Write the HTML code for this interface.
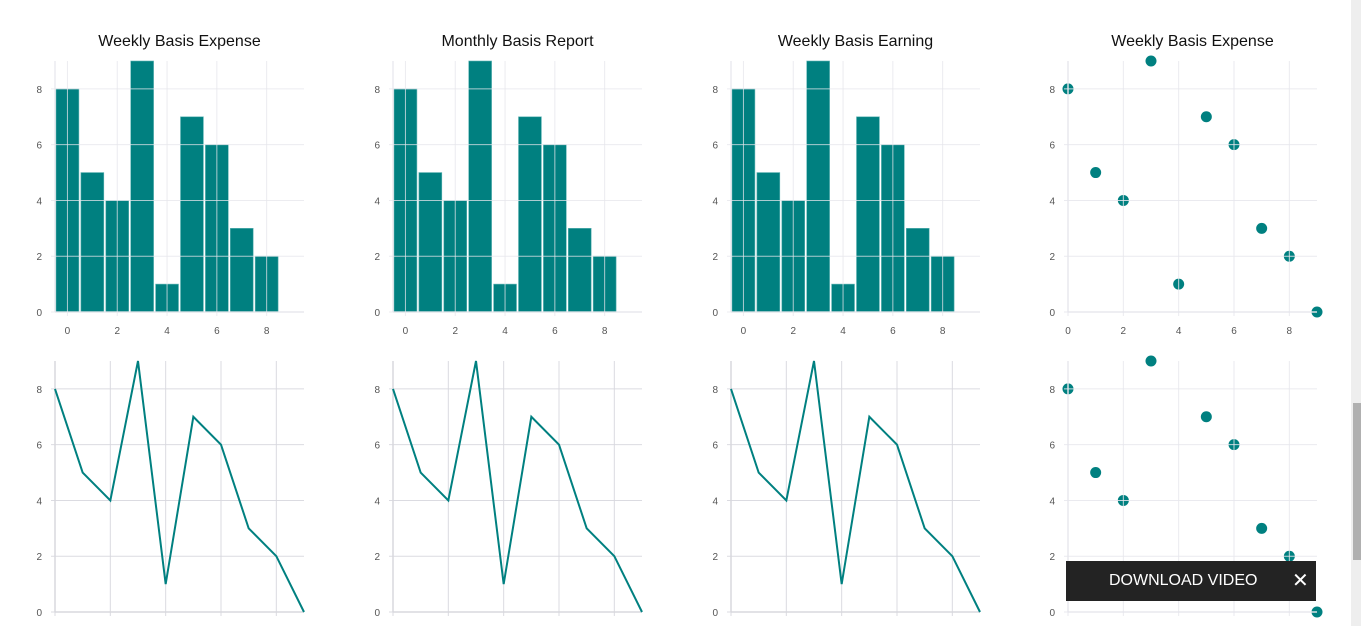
<!DOCTYPE html>
<html><head><meta charset="utf-8">
<style>
html,body{margin:0;padding:0;background:#fff;width:1361px;height:626px;overflow:hidden;font-family:"Liberation Sans",sans-serif;}
svg{position:absolute;left:0;top:0}
#scroll{position:absolute;left:1351px;top:0;width:10px;height:626px;background:#eeeeee}
#thumb{position:absolute;left:2px;top:403px;width:8px;height:157px;background:#b0b0b0}
#dl{position:absolute;left:1066px;top:561px;width:250px;height:40px;background:#232323;color:#fff;font-size:16px;line-height:40px}
#dl span.t{position:absolute;left:43px}
#dl span.x{position:absolute;left:226px;font-size:20px}
</style></head><body>
<svg id="chart" width="1361" height="626"></svg>
<div id="scroll"><div id="thumb"></div></div>
<div id="dl"><span class="t">DOWNLOAD VIDEO</span><span class="x">✕</span></div>
<script>
const categories=[0,1,2,3,4,5,6,7,8,9];
const values=[8,5,4,9,1,7,6,3,2,0];
const yTicks=[0,2,4,6,8];
const xTicks=[0,2,4,6,8];
const titles=["Weekly Basis Expense","Monthly Basis Report","Weekly Basis Earning","Weekly Basis Expense"];
const NS="http://www.w3.org/2000/svg";
const svg=document.getElementById('chart');
const TEAL="#008080";
function mk(tag,attrs,parent){const e=document.createElementNS(NS,tag);for(const k in attrs)e.setAttribute(k,attrs[k]);(parent||svg).appendChild(e);return e;}
function panel(ox,oy,type,title){
  const L=ox,R=ox+249,top=oy,bot=oy+251;
  const xmin=(type==='bar')?-0.5:0,xmax=(type==='bar')?9.5:9;
  const xs=v=>L+(v-xmin)/(xmax-xmin)*(R-L);
  const ys=v=>bot-v/9*(bot-top);
  const g=mk('g',{});
  
  
  if(title){const t=mk('text',{x:(L+R)/2,y:46,'text-anchor':'middle','font-size':'16','fill':'#111'},g);t.textContent=title;
    }
  const grid=mk('g',{},g);
  
  const marks=mk('g',{},g);
  
  yTicks.forEach(v=>{mk('line',{x1:L-4,x2:R,y1:ys(v),y2:ys(v),stroke:'rgba(215,215,222,0.9)','stroke-width':1},grid);
    const t=mk('text',{x:L-13,y:ys(v)+4,'text-anchor':'end','font-size':'10','fill':'#555'},g);t.textContent=v;
    });
  xTicks.forEach(v=>{mk('line',{x1:xs(v),x2:xs(v),y1:top,y2:bot+4,stroke:'rgba(215,215,222,0.9)','stroke-width':1},grid);
    if(type!=='line'){const t=mk('text',{x:xs(v),y:bot+22,'text-anchor':'middle','font-size':'10','fill':'#555'},g);t.textContent=v;
      }});
  mk('line',{x1:L,x2:L,y1:top,y2:bot,stroke:'#d8d8dd','stroke-width':1.5},grid);
  mk('line',{x1:L,x2:R,y1:bot,y2:bot,stroke:'#d8d8dd','stroke-width':1.5},grid);
  if(type==='bar'){
    categories.forEach((c,i)=>{if(values[i]<=0)return;
      const r=mk('rect',{x:xs(c-0.5)+1,y:ys(values[i]),width:xs(c+0.5)-xs(c-0.5)-2,height:bot-ys(values[i]),fill:TEAL,stroke:'#5fb3b3','stroke-width':0.6},marks);
      });
    g.appendChild(grid);
    g.insertBefore(marks,grid);
    grid.querySelectorAll('line').forEach(l=>l.setAttribute('stroke','rgba(230,230,235,0.75)'));
  } else if(type==='line'){
    const p=mk('polyline',{points:categories.map((c,i)=>xs(c)+','+ys(values[i])).join(' '),fill:'none',stroke:TEAL,'stroke-width':2},marks);
    
  } else {
    categories.forEach((c,i)=>{const d=mk('circle',{cx:xs(c),cy:ys(values[i]),r:5.5,fill:TEAL},marks);
      });
    g.appendChild(grid);
    grid.querySelectorAll('line').forEach(l=>l.setAttribute('stroke','rgba(230,230,236,0.85)'));
  }
}
const offs=[55,393,731];
offs.forEach((o,i)=>{panel(o,61,'bar',titles[i]);panel(o,361,'line',null);});
panel(1068,61,'scatter',titles[3]);
panel(1068,361,'scatter',null);
</script>
</body></html>
